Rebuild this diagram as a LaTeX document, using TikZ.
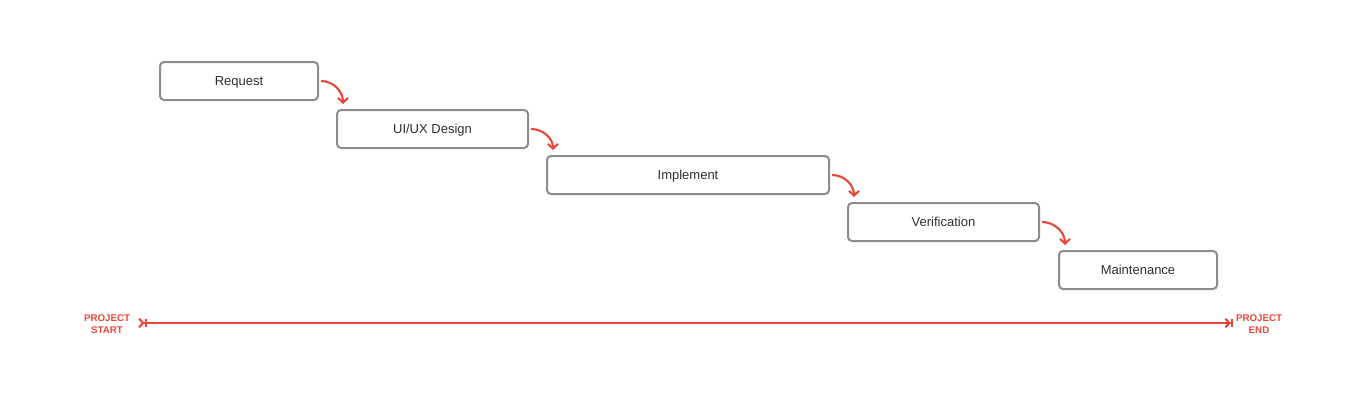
\documentclass[tikz,border=0pt]{standalone}
\usepackage{fontspec}
\setmainfont{Liberation Sans}
\usetikzlibrary{arrows.meta}
\definecolor{boxgray}{HTML}{8C8C8C}
\definecolor{flowred}{HTML}{E8473B}
\definecolor{textdark}{HTML}{2E2E2E}
\begin{document}
\begin{tikzpicture}[x=0.75pt, y=-0.75pt,
        phase/.style={draw=boxgray, line width=1.5pt, rounded corners=3pt, text=textdark, inner sep=0pt,
            minimum height=28.5pt, text height=7pt, text depth=0pt, font=\fontsize{9.75}{12}\selectfont},
        flow/.style={draw=flowred, line width=1.6pt, -{Straight Barb[length=3.5pt, width=7.5pt]}},
        timeline/.style={draw=flowred, line width=1.6pt,
            {Straight Barb[reversed, length=3pt, width=6.5pt] Bar[width=6.5pt]}-{Straight Barb[length=3pt, width=6.5pt] Bar[width=6.5pt]}},
        edgelabel/.style={text=flowred, align=center, font=\bfseries\fontsize{7.3}{9}\selectfont}]
        \useasboundingbox (0,0) rectangle (1366,404);
        \node[phase, minimum width=118.5pt] (request) at (239,81) {Request};
        \node[phase, minimum width=143.25pt] (design) at (432.5,129) {UI/UX Design};
        \node[phase, minimum width=211.5pt] (implement) at (688,175) {Implement};
        \node[phase, minimum width=143.25pt] (verify) at (943.5,222) {Verification};
        \node[phase, minimum width=118.5pt] (maintain) at (1138,270) {Maintenance};
        \draw[flow] ([xshift=1.5pt]request.east) to[out=0, in=90] ([xshift=5.25pt, yshift=3.75pt]design.north west);
        \draw[flow] ([xshift=1.5pt]design.east) to[out=0, in=90] ([xshift=5.25pt, yshift=3.75pt]implement.north west);
        \draw[flow] ([xshift=1.5pt]implement.east) to[out=0, in=90] ([xshift=5.25pt, yshift=3.75pt]verify.north west);
        \draw[flow] ([xshift=1.5pt]verify.east) to[out=0, in=90] ([xshift=5.25pt, yshift=3.75pt]maintain.north west);
        \coordinate (start) at (138,323);
        \coordinate (end) at (1233,323);
        \draw[timeline] (start) -- (end);
        \node[edgelabel] (startlabel) at (107,324) {PROJECT\\START};
        \node[edgelabel] (endlabel) at (1259,324) {PROJECT\\END};
    \end{tikzpicture}
\end{document}
